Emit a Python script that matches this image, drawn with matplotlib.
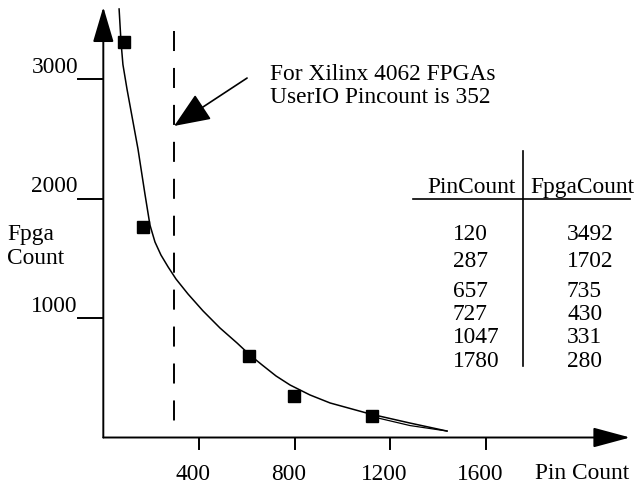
import matplotlib.pyplot as plt
from matplotlib.lines import Line2D

plt.rcParams['font.family'] = ['Liberation Serif', 'DejaVu Serif']

# --------------- data ---------------
table_pins = [120, 287, 657, 727, 1047, 1780]
table_fpgas = [3492, 1702, 735, 430, 331, 280]

# plotted squares
point_pins = [87, 166, 610, 797, 1123]
point_fpgas = [3310, 1762, 682, 347, 184]

# hand drawn fit curve
curve_pins = [66, 74, 82, 99, 145, 174, 195, 216, 241, 271, 304, 354, 417,
              488, 559, 613, 664, 722, 781, 864, 948, 1115, 1282, 1437]
curve_fpgas = [3586, 3310, 3121, 2916, 2414, 2038, 1778, 1636, 1527, 1427,
               1326, 1201, 1059, 916, 791, 690, 607, 515, 439, 356, 289,
               197, 121, 54]
# second stroke at the end of the curve
tail_pins = [1123, 1282, 1437]
tail_fpgas = [175, 100, 54]

x_ticks = [400, 800, 1200, 1600]
y_ticks = [1000, 2000, 3000]
userio_pins = 296   # where the dashed line sits

W, H = 639, 485
FS = 16.8

fig = plt.figure(figsize=(W / 100, H / 100), dpi=100)
ax = fig.add_axes([0, 0, 1, 1])
ax.set_xlim(-431.9, 2239.5)
ax.set_ylim(-389.1, 3669.5)
ax.axis('off')


def fx(x, y):
    # pixel (top-left origin) -> figure fraction
    return (x / W, 1 - y / H)


# --------------- axes with arrow heads ---------------
ax.annotate('', xy=(0, 3602), xytext=(0, 0),
            arrowprops=dict(arrowstyle='-|>,head_length=2.2,head_width=0.65',
                            mutation_scale=10, lw=1.4, color='k',
                            shrinkA=0, shrinkB=0))
ax.annotate('', xy=(2202, 0), xytext=(0, 0),
            arrowprops=dict(arrowstyle='-|>,head_length=2.3,head_width=0.62',
                            mutation_scale=10, lw=1.4, color='k',
                            shrinkA=0, shrinkB=0))

for t in y_ticks:
    ax.plot([-106, 0], [t, t], color='k', lw=1.4)
    ax.text(-106, t + 59, str(t), ha='right', va='baseline', fontsize=FS)
for t in x_ticks:
    ax.plot([t, t], [0, -96], color='k', lw=1.4)
    ax.text(t - 25, -347, str(t), ha='center', va='baseline', fontsize=FS)

fig.text(*fx(7, 240), 'Fpga', fontsize=FS, va='baseline')
fig.text(*fx(7, 264), 'Count', fontsize=FS, va='baseline')
fig.text(*fx(535, 479), 'Pin Count', fontsize=FS, va='baseline')

# --------------- curve, points, dashed marker ---------------
ax.plot(curve_pins, curve_fpgas, color='k', lw=1.1)
ax.plot(tail_pins, tail_fpgas, color='k', lw=0.9)
ax.plot(point_pins, point_fpgas, 's', color='k', ms=8, ls='none')
ax.plot([userio_pins, userio_pins], [3402, 0], color='k', lw=1.4,
        dashes=(10.3, 8.7))

ax.annotate('', xy=(userio_pins, 2607), xytext=(601, 3008),
            arrowprops=dict(arrowstyle='-|>,head_length=2.27,head_width=0.94',
                            mutation_scale=10, lw=1.2, color='k',
                            shrinkA=0, shrinkB=0))
fig.text(*fx(270, 80), 'For Xilinx 4062 FPGAs', fontsize=FS, va='baseline')
fig.text(*fx(270, 103), 'UserIO Pincount is 352', fontsize=FS, va='baseline')

# --------------- table ---------------
fig.text(*fx(472, 193), 'PinCount', fontsize=FS, ha='center', va='baseline')
fig.text(*fx(582, 193), 'FpgaCount', fontsize=FS, ha='center', va='baseline')
fig.add_artist(Line2D([413 / W, 630 / W], [1 - 200 / H] * 2, lw=1.2, color='k'))
fig.add_artist(Line2D([523 / W] * 2, [1 - 152 / H, 1 - 367 / H], lw=1.2, color='k'))

row_y = [240, 267, 297, 320, 343, 367]
for pin, cnt, yb in zip(table_pins, table_fpgas, row_y):
    fig.text(*fx(453, yb), str(pin), fontsize=FS, va='baseline')
    fig.text(*fx(567, yb), str(cnt), fontsize=FS, va='baseline')

fig.savefig('out.png', dpi=100)
